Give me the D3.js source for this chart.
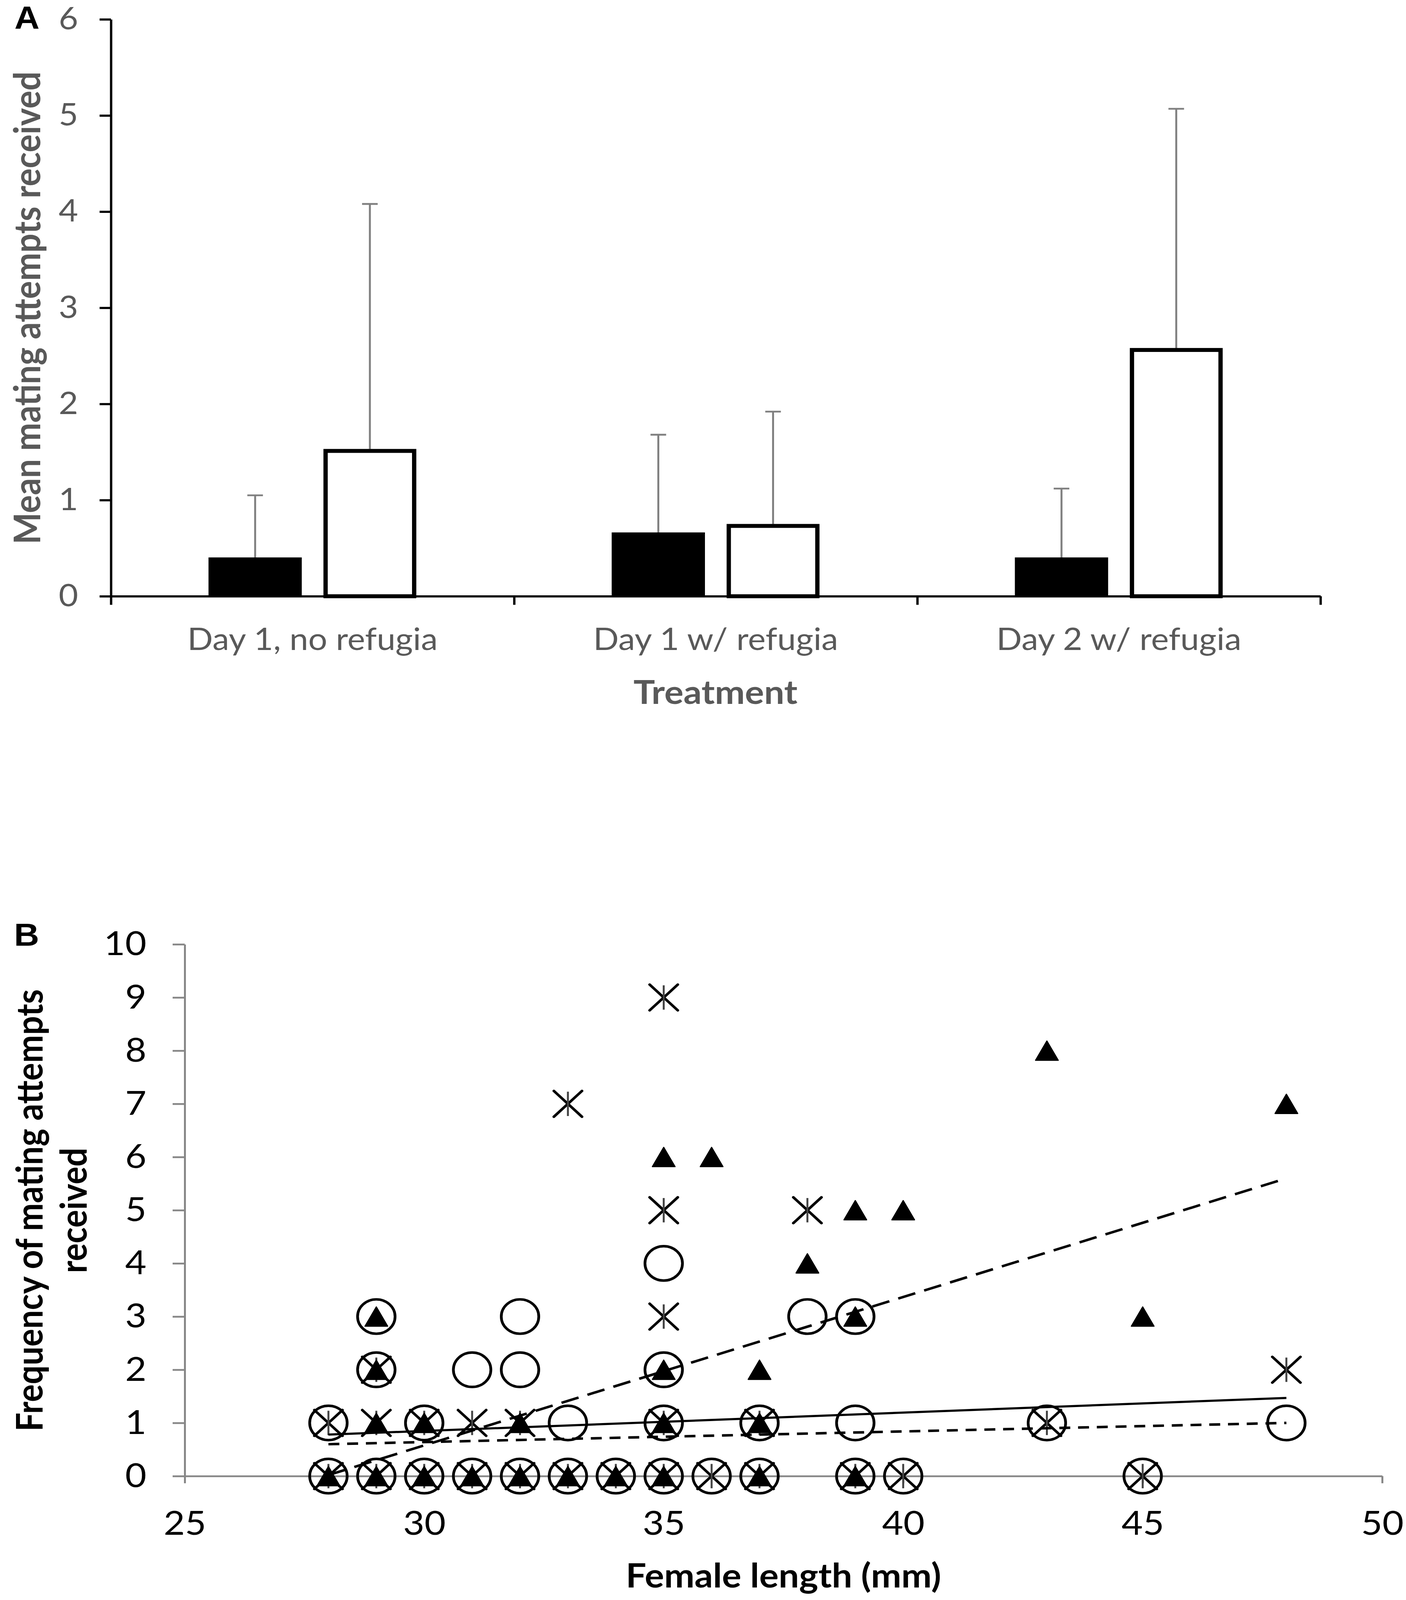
<!DOCTYPE html>
<html><head><meta charset="utf-8">
<script src="https://cdn.jsdelivr.net/npm/d3@7/dist/d3.min.js"></script>
<style>
html,body{margin:0;padding:0;background:#fff;overflow:hidden}
svg{display:block}
</style>
</head><body>
<svg id="chart"></svg>
<script>
// ---------- Panel A data ----------
const categories = ["Day 1, no refugia", "Day 1 w/ refugia", "Day 2 w/ refugia"];
const seriesNames = ["filled", "open"];
const meanFilled = [0.40, 0.66, 0.40];
const errFilled  = [0.65, 1.02, 0.72];
const meanOpen   = [1.53, 0.75, 2.58];
const errOpen    = [2.55, 1.17, 2.49];
const yTicksA = [0, 1, 2, 3, 4, 5, 6];

// ---------- Panel B data ----------
const triangles = [
  [28,0],[29,0],[30,0],[31,0],[32,0],[33,0],[34,0],[35,0],[37,0],[39,0],
  [29,1],[30,1],[32,1],[35,1],[37,1],
  [29,2],[35,2],[37,2],
  [29,3],[39,3],[45,3],
  [38,4],
  [39,5],[40,5],
  [35,6],[36,6],
  [48,7],
  [43,8]
];
const asterisks = [
  [28,0],[29,0],[30,0],[31,0],[32,0],[33,0],[34,0],[35,0],[36,0],[37,0],[39,0],[40,0],[45,0],
  [28,1],[29,1],[30,1],[31,1],[32,1],[35,1],[37,1],[43,1],
  [29,2],[48,2],
  [35,3],
  [35,5],[38,5],
  [33,7],
  [35,9]
];
const circles = [
  [28,0],[29,0],[30,0],[31,0],[32,0],[33,0],[34,0],[35,0],[36,0],[37,0],[39,0],[40,0],[45,0],
  [28,1],[30,1],[33,1],[35,1],[37,1],[39,1],[43,1],[48,1],
  [29,2],[31,2],[32,2],[35,2],
  [29,3],[32,3],[38,3],[39,3],
  [35,4]
];
const trendTriangles = [[28, 0.02], [48, 5.60]];
const trendAsterisks = [[28, 0.78], [48, 1.47]];
const trendCircles   = [[28, 0.60], [48, 1.00]];
const xTicksB = [25, 30, 35, 40, 45, 50];
const yTicksB = [0, 1, 2, 3, 4, 5, 6, 7, 8, 9, 10];

// ---------- canvas (design space 3600 x 4468, fitted to the viewport) ----------
const W = 3600, H = 4468;
const vw = window.innerWidth || W, vh = window.innerHeight || H;
const svg = d3.select("#chart")
  .attr("width", vw).attr("height", vh)
  .attr("viewBox", `0 0 ${W} ${H}`)
  .attr("preserveAspectRatio", "none");
svg.append("rect").attr("width", W).attr("height", H).attr("fill", "#fff");
const FONT = "Lato, 'Open Sans', sans-serif";

// ===== Panel A =====
const gA = svg.append("g");
const xA = d3.scaleBand().domain(categories).range([284, 3381]).padding(0);
const xBound = d3.scaleLinear().domain([0, categories.length]).range([284, 3381]);
const bw = xA.bandwidth();
const xSub = d3.scaleBand().domain(seriesNames).range([0.243 * bw, 0.757 * bw]).paddingInner(0.194);
const yA = d3.scaleLinear().domain([0, 6]).range([1665, 54]);

const barData = [];
categories.forEach((c, i) => {
  barData.push({cat: c, s: "filled", v: meanFilled[i], e: errFilled[i]});
  barData.push({cat: c, s: "open", v: meanOpen[i], e: errOpen[i]});
});

// error bars (upper only)
const errG = gA.append("g").attr("stroke", "#808080").attr("stroke-width", 5);
barData.forEach(d => {
  const cx = xA(d.cat) + xSub(d.s) + xSub.bandwidth() / 2;
  errG.append("line").attr("x1", cx).attr("x2", cx).attr("y1", yA(d.v)).attr("y2", yA(d.v + d.e));
  errG.append("line").attr("x1", cx - 20).attr("x2", cx + 20).attr("y1", yA(d.v + d.e)).attr("y2", yA(d.v + d.e));
});

// y axis A
const yAxisA = gA.append("g").attr("transform", "translate(284,0)")
  .call(d3.axisLeft(yA).tickValues(yTicksA).tickSize(29).tickSizeOuter(0).tickPadding(55).tickFormat(d3.format("d")));
yAxisA.select(".domain").attr("stroke", "#000").attr("stroke-width", 6);
yAxisA.selectAll(".tick line").attr("stroke", "#000").attr("stroke-width", 6);
yAxisA.selectAll(".tick text").attr("fill", "#595959").attr("font-family", FONT).attr("font-size", 86);

// x axis A (ticks at category boundaries)
const xAxisA = gA.append("g").attr("transform", "translate(0,1665)")
  .call(d3.axisBottom(xBound).tickValues(d3.range(categories.length + 1)).tickSize(24).tickSizeOuter(0).tickFormat(""));
xAxisA.select(".domain").attr("stroke", "#000").attr("stroke-width", 6);
xAxisA.selectAll(".tick line").attr("stroke", "#000").attr("stroke-width", 6);

const xLabA = gA.append("g").attr("transform", "translate(0,1665)")
  .call(d3.axisBottom(xA).tickSize(0).tickPadding(89));
xLabA.select(".domain").remove();
xLabA.selectAll(".tick text").attr("fill", "#595959").attr("font-family", FONT).attr("font-size", 86);

// bars
gA.append("g").selectAll("rect").data(barData).join("rect")
  .attr("x", d => xA(d.cat) + xSub(d.s) + (d.s === "open" ? 5 : 0))
  .attr("width", d => xSub.bandwidth() - (d.s === "open" ? 10 : 0))
  .attr("y", d => yA(d.v) + (d.s === "open" ? 5 : 0))
  .attr("height", d => yA(0) - yA(d.v) - (d.s === "open" ? 5 : 0))
  .attr("fill", d => d.s === "open" ? "#fff" : "#000")
  .attr("stroke", "#000")
  .attr("stroke-width", d => d.s === "open" ? 11 : 2);

// titles A
gA.append("text").attr("x", 1832).attr("y", 1966).attr("text-anchor", "middle")
  .attr("font-family", FONT).attr("font-weight", "bold").attr("font-size", 92).attr("fill", "#595959")
  .text("Treatment");
gA.append("text").attr("transform", "translate(103,860) rotate(-90)").attr("text-anchor", "middle")
  .attr("font-family", FONT).attr("font-weight", "bold").attr("font-size", 94).attr("fill", "#595959")
  .text("Mean mating attempts received");
svg.append("text").attr("x", 37).attr("y", 80)
  .attr("font-family", "'Liberation Sans', Arial, sans-serif").attr("font-weight", "bold").attr("font-size", 89)
  .text("A");

// ===== Panel B =====
const gB = svg.append("g");
const xB = d3.scaleLinear().domain([25, 50]).range([473, 3539]);
const yB = d3.scaleLinear().domain([0, 10]).range([4122, 2637]);
const AX = "#878787";

const yAxisB = gB.append("g").attr("transform", "translate(473,0)")
  .call(d3.axisLeft(yB).tickValues(yTicksB).tickSize(31).tickSizeOuter(0).tickPadding(67).tickFormat(d3.format("d")));
yAxisB.select(".domain").attr("stroke", AX).attr("stroke-width", 5);
yAxisB.selectAll(".tick line").attr("stroke", AX).attr("stroke-width", 5);
yAxisB.selectAll(".tick text").attr("fill", "#000").attr("font-family", FONT).attr("font-size", 94);

const xAxisB = gB.append("g").attr("transform", "translate(0,4122)")
  .call(d3.axisBottom(xB).tickValues(xTicksB).tickSize(20).tickSizeOuter(0).tickPadding(77).tickFormat(d3.format("d")));
xAxisB.select(".domain").attr("stroke", AX).attr("stroke-width", 5);
xAxisB.selectAll(".tick line").attr("stroke", AX).attr("stroke-width", 5);
xAxisB.selectAll(".tick text").attr("fill", "#000").attr("font-family", FONT).attr("font-size", 94);

// markers
const mk = gB.append("g");
mk.selectAll("circle.c").data(circles).join("circle").attr("class", "c")
  .attr("cx", d => xB(d[0])).attr("cy", d => yB(d[1])).attr("r", 48)
  .attr("fill", "none").attr("stroke", "#000").attr("stroke-width", 7);
const astG = mk.selectAll("g.a").data(asterisks).join("g").attr("class", "a")
  .attr("transform", d => `translate(${xB(d[0])},${yB(d[1])})`);
astG.append("path").attr("d", "M-36,-36L36,36M-36,36L36,-36")
  .attr("fill", "none").attr("stroke", "#000").attr("stroke-width", 7).attr("stroke-linecap", "round");
astG.append("path").attr("d", "M0,-34L0,34")
  .attr("fill", "none").attr("stroke", "#444").attr("stroke-width", 5);
mk.selectAll("path.t").data(triangles).join("path").attr("class", "t")
  .attr("transform", d => `translate(${xB(d[0])},${yB(d[1])})`)
  .attr("d", "M0,-27L29,27L-29,27Z")
  .attr("fill", "#000").attr("stroke", "#000").attr("stroke-width", 3).attr("stroke-linejoin", "round");

// trendlines
const line = d3.line().x(d => xB(d[0])).y(d => yB(d[1]));
gB.append("path").datum(trendTriangles).attr("d", line).attr("fill", "none")
  .attr("stroke", "#000").attr("stroke-width", 7).attr("stroke-dasharray", "46,24");
gB.append("path").datum(trendAsterisks).attr("d", line).attr("fill", "none")
  .attr("stroke", "#000").attr("stroke-width", 6);
gB.append("path").datum(trendCircles).attr("d", line).attr("fill", "none")
  .attr("stroke", "#000").attr("stroke-width", 7).attr("stroke-dasharray", "28,20");

// titles B
gB.append("text").attr("x", 2006).attr("y", 4433).attr("text-anchor", "middle")
  .attr("font-family", FONT).attr("font-weight", "bold").attr("font-size", 93).attr("fill", "#000")
  .text("Female length (mm)");
const yt = gB.append("text").attr("transform", "translate(0,3380) rotate(-90)").attr("text-anchor", "middle")
  .attr("font-family", FONT).attr("font-weight", "bold").attr("font-size", 93).attr("fill", "#000");
yt.append("tspan").attr("x", 0).attr("y", 109).text("Frequency of mating attempts");
yt.append("tspan").attr("x", 0).attr("y", 222).text("received");
svg.append("text").attr("x", 36).attr("y", 2641)
  .attr("font-family", "'Liberation Sans', Arial, sans-serif").attr("font-weight", "bold").attr("font-size", 89)
  .text("B");
</script>
</body></html>
